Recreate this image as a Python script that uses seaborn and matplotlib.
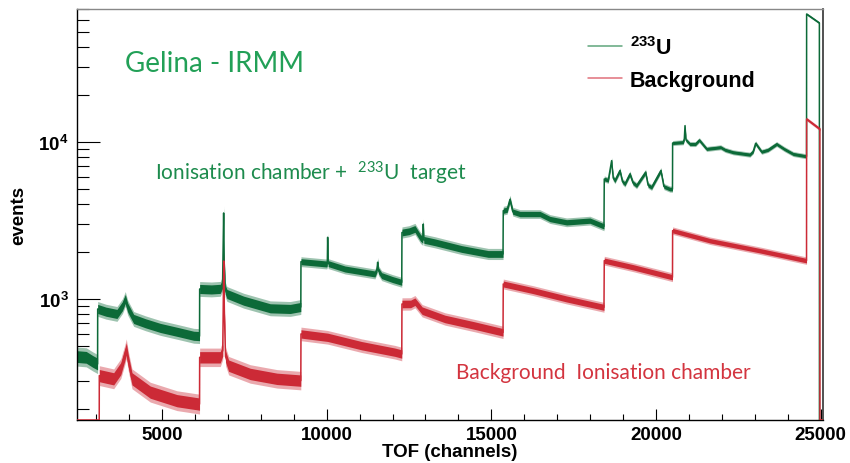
import numpy as np
import pandas as pd
import matplotlib
matplotlib.use("Agg")
import matplotlib.pyplot as plt
import seaborn as sns
from matplotlib.lines import Line2D
from matplotlib.ticker import LogLocator, MultipleLocator, NullFormatter, FuncFormatter

# ---------------- data ----------------
u233_tof = [2400, 2700, 2900, 3045, 3048, 3300, 3634, 3800, 3886, 3960, 4141, 4500, 4950, 5500,
            5962, 6140, 6144, 6500, 6770, 6840, 6855, 6872, 6890, 6920, 6973, 7480, 8288, 8895,
            9215, 9220, 9600, 10000, 10020, 10030, 10045, 10556, 11467, 11530, 11548, 11570,
            11670, 12000, 12280, 12286, 12500, 12681, 12850, 12920, 12934, 12950, 13288, 14100,
            14907, 15355, 15362, 15480, 15565, 15650, 15869, 16476, 16780, 17286, 17994, 18420,
            18429, 18550, 18652, 18700, 18753, 18905, 18980, 19057, 19208, 19300, 19410, 19684,
            19760, 19866, 20148, 20240, 20422, 20500, 20504, 20828, 20860, 20880, 20910, 21030,
            21200, 21314, 21537, 21962, 22100, 22345, 22852, 22950, 23024, 23206, 23400, 23662,
            23900, 24167, 24570, 24573, 24960, 24962, 25100]
u233_events = [430, 425, 400, 385, 864, 830, 803, 900, 1000, 880, 746, 700, 654, 615,
               583, 580, 1158, 1150, 1160, 1250, 2000, 3530, 1700, 1150, 1076, 975, 872, 864,
               889, 1728, 1700, 1670, 1700, 2471, 1680, 1552, 1443, 1550, 1713, 1520,
               1408, 1330, 1277, 2650, 2700, 2793, 2450, 2380, 3000, 2380, 2296, 2081,
               1935, 1935, 3650, 3700, 4300, 3600, 3475, 3475, 3230, 3077, 3155, 2900,
               5810, 5700, 7600, 5900, 5670, 6570, 5600, 5400, 6250, 5500, 5270, 6410,
               5300, 5140, 6570, 5200, 5010, 5010, 9848, 9960, 10500, 12700, 10300, 9700,
               9700, 10270, 9030, 9250, 8900, 8590, 8300, 8700, 9800, 8660, 8900, 9700,
               9000, 8380, 8100, 65300, 57300, 0, 0]
# relative width of the statistical-noise band, per time-of-flight segment
u233_segment_starts = [2400, 3048, 6144, 9220, 12286, 15362, 18429, 20504, 24573, 24962]
u233_spread = [0.12, 0.092, 0.092, 0.06, 0.068, 0.053, 0.037, 0.03, 0.015, 0.0]

bkg_tof = [2400, 3095, 3097, 3534, 3750, 3870, 3917, 3980, 4090, 4645, 5455, 6140, 6144, 6770,
           6845, 6860, 6875, 6895, 6930, 7024, 7680, 8491, 9215, 9220, 10030, 11062, 12074,
           12280, 12286, 12550, 12681, 12900, 13592, 14503, 15355, 15362, 16270, 17286, 18420,
           18429, 19310, 20500, 20504, 21637, 23155, 24570, 24573, 24975, 24977, 25100]
bkg_events = [0, 0, 325, 310, 360, 440, 481, 400, 310, 255, 225, 214, 425, 425,
              470, 900, 1745, 800, 430, 376, 333, 310, 302, 599, 570, 504, 458,
              446, 929, 930, 961, 842, 746, 676, 613, 1246, 1130, 1000, 885,
              1754, 1591, 1375, 2725, 2350, 2030, 1754, 14000, 12090, 0, 0]
bkg_segment_starts = [2400, 3097, 6144, 9220, 12286, 15362, 18429, 20504, 24573, 24977]
bkg_spread = [0.0, 0.125, 0.116, 0.084, 0.076, 0.06, 0.053, 0.045, 0.022, 0.0]

x_major_ticks = [5000, 10000, 15000, 20000, 25000]
legend_labels = [r"$\mathdefault{^{233}}$U", "Background"]
title_text = "Gelina - IRMM"
u233_note = r"Ionisation chamber +  $\mathdefault{^{233}}$U  target"
bkg_note = "Background  Ionisation chamber"

# ---------------- style ----------------
sns.set_theme(style="white")
plt.rcParams["font.family"] = ["Liberation Sans", "DejaVu Sans"]
plt.rcParams["font.weight"] = "bold"
plt.rcParams["text.color"] = "black"
plt.rcParams["axes.labelcolor"] = "black"
plt.rcParams["xtick.color"] = "black"
plt.rcParams["ytick.color"] = "black"

GREEN = "#0c6a38"
RED = "#cc2a36"
Y_MIN, Y_MAX = 169.5, 70300
X_MIN, X_MAX = 2420, 25070

W, H = 850, 464
fig = plt.figure(figsize=(W / 100, H / 100), dpi=100)
ax = fig.add_axes([77 / W, 1 - 421 / H, (823 - 77) / W, (421 - 10) / H])
ax.set_yscale("log")
ax.set_xlim(X_MIN, X_MAX)
ax.set_ylim(Y_MIN, Y_MAX)


def draw_spectrum(tof, events, starts, spread, color, z):
    x = np.asarray(tof, float)
    y = np.asarray(events, float)
    seg = np.searchsorted(starts, x, side="right") - 1
    s = np.asarray(spread, float)[seg]
    yd = np.clip(y, Y_MIN, None)
    pos = y > 0
    ax.fill_between(x, yd / (1 + 1.25 * s), yd * (1 + 1.25 * s), where=pos, color=color,
                    alpha=0.4, lw=0, zorder=z)
    ax.fill_between(x, yd / (1 + 0.75 * s), yd * (1 + 0.75 * s), where=pos,
                    color=color, alpha=1.0, lw=0, zorder=z + 0.05)
    df = pd.DataFrame({"tof": x, "events": yd})
    sns.lineplot(data=df, x="tof", y="events", estimator=None, sort=False,
                 color=color, linewidth=1.1, ax=ax, zorder=z + 0.1)


draw_spectrum(u233_tof, u233_events, u233_segment_starts, u233_spread, GREEN, 2.0)
draw_spectrum(bkg_tof, bkg_events, bkg_segment_starts, bkg_spread, RED, 3.0)

ax.set_xlim(X_MIN, X_MAX)
ax.set_ylim(Y_MIN, Y_MAX)

# ticks
ax.xaxis.set_major_locator(matplotlib.ticker.FixedLocator(x_major_ticks))
ax.xaxis.set_minor_locator(MultipleLocator(1000))
ax.yaxis.set_major_locator(LogLocator(base=10, numticks=10))
ax.yaxis.set_minor_locator(LogLocator(base=10, subs=np.arange(2, 10), numticks=30))
ax.yaxis.set_minor_formatter(NullFormatter())
ax.yaxis.set_major_formatter(FuncFormatter(lambda v, p: r"$\mathdefault{10^{%d}}$" % round(np.log10(v))))

ax.tick_params(which="both", direction="in", top=False, right=False, left=True, bottom=True,
               colors="black")
ax.tick_params(axis="y", which="major", length=16.5, width=0.8, pad=6, labelsize=13.5)
ax.tick_params(axis="y", which="minor", length=8.6, width=0.8)
ax.tick_params(axis="x", which="major", length=8, width=0.8, pad=4, labelsize=13.5)
ax.tick_params(axis="x", which="minor", length=4.3, width=0.8)

for side in ["left", "bottom"]:
    ax.spines[side].set_color("black")
    ax.spines[side].set_linewidth(1.0)
ax.spines["top"].set_color("#888888")
ax.spines["top"].set_linewidth(1.0)
ax.spines["right"].set_color("#333333")
ax.spines["right"].set_linewidth(1.2)

ax.set_xlabel("TOF (channels)", fontsize=13.5, fontweight="bold")
ax.set_ylabel("events", fontsize=13.5, fontweight="bold")
ax.xaxis.set_label_coords(0.5, -(444 - 421) / 411)
ax.yaxis.set_label_coords((27 - 77) / 746, 0.5)

# legend
handles = [Line2D([0], [0], color="#5fa57c", lw=1.1),
           Line2D([0], [0], color="#e0707a", lw=1.1)]
leg = ax.legend(handles, legend_labels, loc="upper left",
                bbox_to_anchor=(588 / W, 1 - 37 / H), bbox_transform=fig.transFigure,
                frameon=False, borderpad=0, borderaxespad=0, handlelength=1.6,
                handletextpad=0.35, labelspacing=0.5,
                prop={"family": "Liberation Sans", "weight": "bold", "size": 15.5})

# annotations
fig.text(125 / W, 1 - 71.7 / H, title_text, family="Lato", fontsize=20, fontweight="normal",
         color="#22a057", ha="left", va="baseline")
fig.text(155 / W, 1 - 180.7 / H, u233_note, family="Lato", fontsize=15.0, fontweight="normal",
         color="#1d8b4d", ha="left", va="baseline")
fig.text(456 / W, 1 - 379.3 / H, bkg_note, family="Lato", fontsize=15, fontweight="normal",
         color="#d3343f", ha="left", va="baseline")

fig.savefig("out.png", dpi=100, facecolor="white")
